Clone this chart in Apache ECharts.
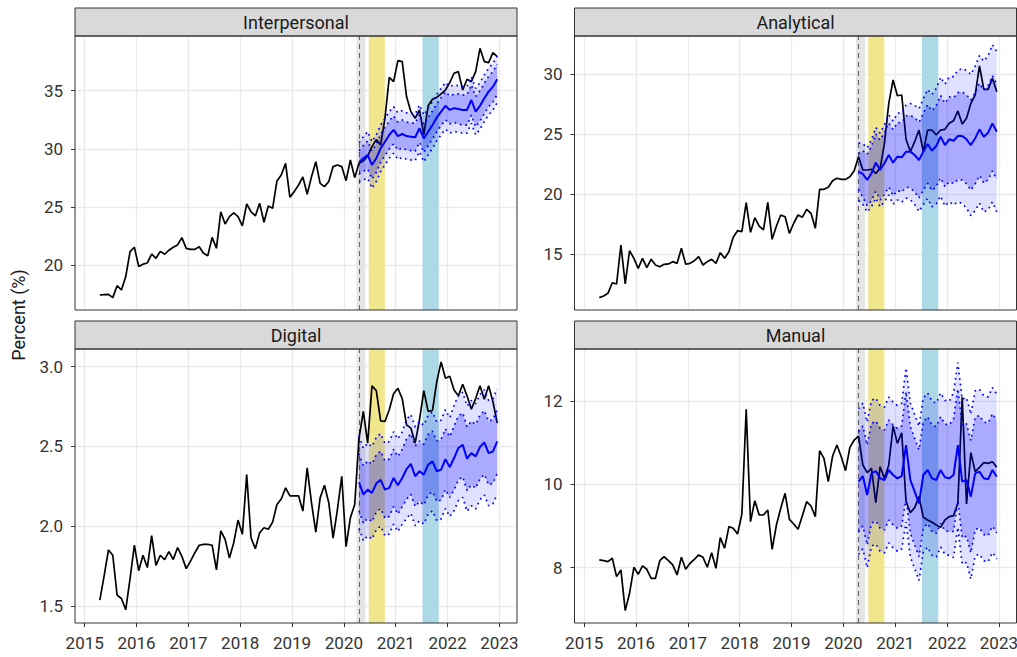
<!DOCTYPE html>
<html>
<head>
<meta charset="utf-8">
<script src="https://cdn.jsdelivr.net/npm/echarts@6/dist/echarts.min.js"></script>
<style>
html,body{margin:0;padding:0;background:#fff;}
#chart{width:1017px;height:657px;}
</style>
</head>
<body>
<div id="chart"></div>
<script>
// ---------- data ----------
const startYear = 2015, startMonth = 4;       // first monthly observation: April 2015
const forecastStartIndex = 60;                // April 2020
const panelTitles = ['Interpersonal', 'Analytical', 'Digital', 'Manual'];
const yearTicks = [2015, 2016, 2017, 2018, 2019, 2020, 2021, 2022, 2023];
const interpersonalTicks = [20, 25, 30, 35];
const analyticalTicks = [15, 20, 25, 30];
const digitalTicks = [1.5, 2.0, 2.5, 3.0];
const manualTicks = [8, 10, 12];
const yAxisTitle = 'Percent (%)';

const forecastLine = 2020.29;
const shadeGrey = [2020.243, 2020.416];
const shadeYellow = [2020.48, 2020.79];
const shadeBlue = [2021.515, 2021.83];

const interpersonalActual = [17.45, 17.48, 17.5, 17.22, 18.25, 17.88, 19.03, 21.17, 21.55, 19.9,
  20.1, 20.2, 20.97, 20.6, 21.2, 20.95, 21.3, 21.55, 21.75, 22.38,
  21.46, 21.37, 21.37, 21.6, 21.03, 20.83, 22.4, 21.46, 24.6, 23.55,
  24.18, 24.5, 24.18, 23.38, 25.27, 24.6, 24.24, 25.33, 23.7, 25.1,
  24.9, 27.25, 27.76, 28.76, 25.84, 26.33, 26.9, 27.6, 26.1, 27.6,
  28.9, 27.04, 26.76, 27.2, 28.48, 28.62, 28.48, 27.27, 29.05, 27.53,
  28.76, 28.96, 29.4, 30.2, 30.8, 30.34, 32.63, 36.15, 35.78, 37.58,
  37.5, 34.5, 33.2, 32.63, 33.35, 31.2, 33.7, 34.26, 34.43, 34.72,
  35.06, 35.7, 36.5, 36.64, 35.06, 35.98, 35.78, 36.64, 38.64, 37.5,
  37.41, 38.27, 37.93];
const interpersonalForecast = [28.85, 29.2, 29.48, 28.62, 29.2, 30.05, 30.62, 31.2, 31.63, 31.1, 31.28, 31.1, 31.05, 31.0, 31.77, 30.9, 31.48, 32.06, 32.69, 33.2, 33.7, 33.35, 33.5, 33.43, 33.35, 33.35, 34.2, 33.2, 33.7, 34.35, 34.92, 35.35, 35.98];
const interpersonalHi95 = [30.55, 31.05, 31.48, 30.62, 31.2, 32.05, 32.62, 33.2, 33.63, 33.1, 33.28, 33.1, 33.05, 33.0, 33.77, 32.9, 33.48, 34.06, 34.69, 35.2, 35.7, 35.35, 35.5, 35.43, 35.35, 35.35, 36.2, 35.2, 35.7, 36.35, 36.92, 37.35, 37.98];
const interpersonalHi80 = [29.85, 30.3, 30.68, 29.82, 30.4, 31.25, 31.82, 32.4, 32.83, 32.3, 32.48, 32.3, 32.25, 32.2, 32.97, 32.1, 32.68, 33.26, 33.89, 34.4, 34.9, 34.55, 34.7, 34.73, 34.65, 34.65, 35.5, 34.5, 35.0, 35.65, 36.22, 36.65, 37.28];
const interpersonalLo80 = [27.85, 28.1, 28.28, 27.42, 28.0, 28.85, 29.42, 30.0, 30.43, 29.9, 30.08, 29.9, 29.85, 29.8, 30.57, 29.7, 30.28, 30.86, 31.49, 32.0, 32.5, 32.15, 32.3, 32.13, 32.05, 32.05, 32.9, 31.9, 32.4, 33.05, 33.62, 34.05, 34.68];
const interpersonalLo95 = [27.15, 27.35, 27.48, 26.62, 27.2, 28.05, 28.62, 29.2, 29.63, 29.1, 29.28, 29.1, 29.05, 29.0, 29.77, 28.9, 29.48, 30.06, 30.69, 31.2, 31.7, 31.35, 31.5, 31.43, 31.35, 31.35, 32.2, 31.2, 31.7, 32.35, 32.92, 33.35, 33.98];

const analyticalActual = [11.36, 11.5, 11.72, 12.6, 12.5, 15.75, 12.5, 15.28, 14.64, 13.8,
  14.64, 13.86, 14.56, 14.08, 13.94, 14.14, 14.17, 14.36, 14.22, 15.47,
  14.14, 14.22, 14.44, 14.78, 14.08, 14.36, 14.56, 14.22, 15.11, 14.64,
  15.19, 16.39, 16.94, 16.86, 19.28, 16.8, 18.03, 17.33, 17.0, 19.3,
  16.22, 17.33, 18.25, 18.1, 16.72, 17.56, 18.25, 18.06, 18.72, 18.39,
  17.14, 20.39, 20.39, 20.56, 21.11, 21.31, 21.22, 21.22, 21.44, 21.94,
  23.11, 22.0, 22.0, 22.06, 21.72, 22.14, 24.22, 27.56, 29.5, 28.19,
  28.25, 24.56, 23.53, 24.36, 25.33, 23.53, 25.33, 25.33, 24.92, 25.33,
  25.39, 25.89, 26.11, 26.92, 25.83, 26.31, 27.56, 28.25, 30.67, 28.72,
  28.72, 29.64, 28.53];
const analyticalForecast = [21.86, 21.67, 21.17, 21.72, 22.61, 22.0, 22.56, 23.25, 22.61, 23.11, 23.06, 23.53, 23.53, 23.25, 22.83, 23.53, 24.17, 23.61, 24.0, 24.78, 24.08, 24.56, 24.44, 24.83, 24.83, 24.56, 24.08, 24.64, 25.39, 24.78, 25.11, 25.89, 25.19];
const analyticalHi95 = [24.26, 24.2, 23.84, 24.52, 25.55, 25.07, 25.76, 26.59, 26.08, 26.72, 26.8, 27.4, 27.54, 27.39, 27.11, 27.94, 28.71, 28.29, 28.81, 29.73, 29.16, 29.77, 29.79, 30.31, 30.45, 30.31, 29.96, 30.66, 31.54, 31.07, 31.53, 32.44, 31.88];
const analyticalHi80 = [23.36, 23.61, 23.3, 23.99, 25.0, 24.49, 25.14, 25.92, 25.36, 25.94, 25.96, 26.5, 26.56, 26.34, 25.98, 26.74, 27.44, 26.93, 27.38, 28.21, 27.56, 28.09, 28.01, 28.45, 28.5, 28.27, 27.83, 28.44, 29.23, 28.66, 29.03, 29.85, 29.19];
const analyticalLo80 = [20.36, 19.73, 19.04, 19.45, 20.22, 19.51, 19.98, 20.58, 19.86, 20.28, 20.16, 20.56, 20.5, 20.16, 19.68, 20.32, 20.9, 20.29, 20.62, 21.35, 20.6, 21.03, 20.87, 21.21, 21.16, 20.85, 20.33, 20.84, 21.55, 20.9, 21.19, 21.93, 21.19];
const analyticalLo95 = [19.46, 19.14, 18.5, 18.92, 19.67, 18.93, 19.36, 19.91, 19.14, 19.5, 19.32, 19.66, 19.52, 19.11, 18.55, 19.12, 19.63, 18.93, 19.19, 19.83, 19.0, 19.35, 19.09, 19.35, 19.21, 18.81, 18.2, 18.62, 19.24, 18.49, 18.69, 19.34, 18.5];

const digitalActual = [1.535, 1.6875, 1.85, 1.817, 1.567, 1.546, 1.475, 1.67, 1.88, 1.72,
  1.817, 1.74, 1.94, 1.754, 1.817, 1.79, 1.84, 1.79, 1.865, 1.81,
  1.733, 1.78, 1.833, 1.88, 1.885, 1.885, 1.88, 1.725, 1.97, 1.917,
  1.80, 1.896, 2.0375, 1.948, 2.323, 1.927, 1.858, 1.958, 1.99, 1.98,
  2.025, 2.135, 2.17, 2.24, 2.19, 2.19, 2.19, 2.094, 2.365, 2.146,
  1.9625, 2.177, 2.256, 2.146, 1.925, 2.104, 2.3125, 1.871, 2.052, 2.135,
  2.552, 2.72, 2.52, 2.88, 2.85, 2.66, 2.656, 2.73, 2.83, 2.865,
  2.80, 2.635, 2.615, 2.52, 2.667, 2.85, 2.72, 2.725, 2.906, 3.03,
  2.927, 2.94, 2.854, 2.817, 2.89, 2.817, 2.733, 2.80, 2.88, 2.796,
  2.88, 2.78, 2.646];
const digitalForecast = [2.275, 2.198, 2.229, 2.208, 2.267, 2.29, 2.229, 2.24, 2.302, 2.256, 2.302, 2.358, 2.39, 2.3125, 2.344, 2.323, 2.385, 2.406, 2.344, 2.354, 2.42, 2.37, 2.427, 2.49, 2.51, 2.423, 2.458, 2.4375, 2.496, 2.525, 2.458, 2.469, 2.531];
const digitalHi95 = [2.565, 2.488, 2.519, 2.498, 2.557, 2.58, 2.519, 2.53, 2.592, 2.546, 2.592, 2.668, 2.7, 2.6225, 2.654, 2.633, 2.695, 2.716, 2.654, 2.664, 2.73, 2.68, 2.757, 2.82, 2.84, 2.753, 2.788, 2.7675, 2.826, 2.855, 2.788, 2.799, 2.861];
const digitalHi80 = [2.455, 2.378, 2.409, 2.388, 2.447, 2.47, 2.409, 2.42, 2.482, 2.436, 2.482, 2.548, 2.58, 2.5025, 2.534, 2.513, 2.575, 2.596, 2.534, 2.544, 2.61, 2.56, 2.627, 2.69, 2.71, 2.623, 2.658, 2.6375, 2.696, 2.725, 2.658, 2.669, 2.731];
const digitalLo80 = [2.095, 2.018, 2.049, 2.028, 2.087, 2.11, 2.049, 2.06, 2.122, 2.076, 2.122, 2.168, 2.2, 2.1225, 2.154, 2.133, 2.195, 2.216, 2.154, 2.164, 2.23, 2.18, 2.227, 2.29, 2.31, 2.223, 2.258, 2.2375, 2.296, 2.325, 2.258, 2.269, 2.331];
const digitalLo95 = [1.985, 1.908, 1.939, 1.918, 1.977, 2.0, 1.939, 1.95, 2.012, 1.966, 2.012, 2.048, 2.08, 2.0025, 2.034, 2.013, 2.075, 2.096, 2.034, 2.044, 2.11, 2.06, 2.097, 2.16, 2.18, 2.093, 2.128, 2.1075, 2.166, 2.195, 2.128, 2.139, 2.201];

const manualActual = [8.184, 8.168, 8.144, 8.224, 7.784, 7.944, 6.968, 7.384, 8.008, 7.84,
  8.04, 7.96, 7.744, 7.744, 8.168, 8.264, 8.168, 8.064, 7.824, 8.248,
  7.96, 8.104, 8.2, 8.304, 8.248, 8.008, 8.36, 7.984, 8.72, 8.464,
  8.984, 8.944, 8.808, 9.288, 11.8, 9.104, 9.608, 9.264, 9.264, 9.384,
  8.44, 9.024, 9.424, 9.784, 9.16, 9.048, 8.92, 9.248, 9.584, 9.48,
  9.224, 10.808, 10.624, 10.064, 10.68, 10.944, 10.664, 10.328, 10.888, 11.064,
  11.16, 10.464, 10.28, 10.384, 9.56, 10.424, 10.144, 10.464, 11.4, 10.984,
  11.24, 9.584, 9.32, 9.44, 9.704, 9.208, 9.144, 9.088, 9.024, 8.968,
  9.144, 9.224, 9.248, 9.544, 12.088, 9.528, 10.76, 10.304, 10.408, 10.52,
  10.504, 10.544, 10.408];
const manualForecast = [10.064, 10.2, 9.744, 10.264, 10.32, 10.144, 10.104, 10.344, 10.224, 10.144, 10.2, 10.944, 10.104, 9.824, 9.544, 10.224, 10.344, 10.144, 10.104, 10.344, 10.168, 10.144, 10.224, 10.944, 10.064, 10.104, 9.704, 10.264, 10.304, 10.144, 10.12, 10.344, 10.184];
const manualHi95 = [11.814, 11.95, 11.494, 12.014, 12.07, 11.894, 11.854, 12.094, 11.974, 11.894, 11.95, 12.794, 11.954, 11.674, 11.394, 12.074, 12.194, 11.994, 11.954, 12.194, 12.018, 11.994, 12.204, 12.924, 12.044, 12.084, 11.684, 12.244, 12.284, 12.124, 12.1, 12.324, 12.164];
const manualHi80 = [11.264, 11.4, 10.944, 11.464, 11.52, 11.344, 11.304, 11.544, 11.424, 11.344, 11.4, 12.224, 11.384, 11.104, 10.824, 11.504, 11.624, 11.424, 11.384, 11.624, 11.448, 11.424, 11.574, 12.294, 11.414, 11.454, 11.054, 11.614, 11.654, 11.494, 11.47, 11.694, 11.534];
const manualLo80 = [8.864, 9.0, 8.544, 9.064, 9.12, 8.944, 8.904, 9.144, 9.024, 8.944, 9.0, 9.664, 8.824, 8.544, 8.264, 8.944, 9.064, 8.864, 8.824, 9.064, 8.888, 8.864, 8.874, 9.594, 8.714, 8.754, 8.354, 8.914, 8.954, 8.794, 8.77, 8.994, 8.834];
const manualLo95 = [8.314, 8.45, 7.994, 8.514, 8.57, 8.394, 8.354, 8.594, 8.474, 8.394, 8.45, 9.094, 8.254, 7.974, 7.694, 8.374, 8.494, 8.294, 8.254, 8.494, 8.318, 8.294, 8.244, 8.964, 8.084, 8.124, 7.724, 8.284, 8.324, 8.164, 8.14, 8.364, 8.204];

// ---------- layout / style ----------
const FONT = 'Roboto, "Noto Sans", sans-serif';
const xRange = [2014.813, 2023.339];
const panels = [
  {title: panelTitles[0], actual: interpersonalActual, fc: interpersonalForecast, lo95: interpersonalLo95, lo80: interpersonalLo80, hi80: interpersonalHi80, hi95: interpersonalHi95, ticks: interpersonalTicks, yr: [16.16, 39.7], dec: 0, rect: [75, 36, 442, 274]},
  {title: panelTitles[1], actual: analyticalActual, fc: analyticalForecast, lo95: analyticalLo95, lo80: analyticalLo80, hi80: analyticalHi80, hi95: analyticalHi95, ticks: analyticalTicks, yr: [10.33, 33.17], dec: 0, rect: [574.5, 36, 442, 274]},
  {title: panelTitles[2], actual: digitalActual, fc: digitalForecast, lo95: digitalLo95, lo80: digitalLo80, hi80: digitalHi80, hi95: digitalHi95, ticks: digitalTicks, yr: [1.392, 3.111], dec: 1, rect: [75, 349, 442, 274]},
  {title: panelTitles[3], actual: manualActual, fc: manualForecast, lo95: manualLo95, lo80: manualLo80, hi80: manualHi80, hi95: manualHi95, ticks: manualTicks, yr: [6.67, 13.25], dec: 0, rect: [574.5, 349, 442, 274]}
];

const times = interpersonalActual.map((_, i) => startYear + (startMonth - 1 + i + 0.5) / 12);
const fTimes = times.slice(forecastStartIndex);
const pairs = (ts, vals) => vals.map((v, i) => [ts[i], v]);

const grids = [], xAxes = [], yAxes = [], series = [], graphics = [];
const LIGHT = 'rgba(0,0,255,0.12)';   // 95% ribbon
const DARK = 'rgba(0,0,255,0.24)';    // 80% ribbon (drawn over the 95% one)

function ribbonPoints(api, lo, hi) {
  const pts = [];
  for (let i = 0; i < fTimes.length; i++) pts.push(api.coord([fTimes[i], hi[i]]));
  for (let i = fTimes.length - 1; i >= 0; i--) pts.push(api.coord([fTimes[i], lo[i]]));
  return pts;
}

panels.forEach((p, k) => {
  const [gx, gy, gw, gh] = p.rect;
  grids.push({left: gx, top: gy, width: gw, height: gh, show: false, containLabel: false, outerBoundsMode: 'none'});
  const bottom = k >= 2;
  xAxes.push({
    type: 'value', gridIndex: k, min: xRange[0], max: xRange[1],
    axisLine: {show: false},
    axisTick: {show: bottom, length: 4, customValues: yearTicks, lineStyle: {color: '#333', width: 1}},
    axisLabel: {show: bottom, customValues: yearTicks, formatter: v => String(Math.round(v)), color: '#333333', fontSize: 17, fontFamily: FONT, margin: 11},
    splitLine: {show: true, lineStyle: {color: '#EBEBEB', width: 1.4}}
  });
  yAxes.push({
    type: 'value', gridIndex: k, min: p.yr[0], max: p.yr[1],
    axisLine: {show: false},
    axisTick: {show: true, length: 4, customValues: p.ticks, lineStyle: {color: '#333', width: 1}},
    axisLabel: {show: true, customValues: p.ticks, formatter: v => v.toFixed(p.dec), color: '#333333', fontSize: 17, fontFamily: FONT, margin: 12},
    splitLine: {show: true, lineStyle: {color: '#EBEBEB', width: 1.4}}
  });
  const base = {type: 'line', xAxisIndex: k, yAxisIndex: k, symbol: 'none', showSymbol: false, silent: true, animation: false};
  // observed series with shaded periods and forecast-start line
  series.push(Object.assign({}, base, {
    data: pairs(times, p.actual), z: 2,
    lineStyle: {color: '#000000', width: 1.7},
    markArea: {silent: true, z: 1, data: [
      [{xAxis: shadeGrey[0], itemStyle: {color: '#E6E6E6', opacity: 1}}, {xAxis: shadeGrey[1]}],
      [{xAxis: shadeYellow[0], itemStyle: {color: '#F0E68C', opacity: 1}}, {xAxis: shadeYellow[1]}],
      [{xAxis: shadeBlue[0], itemStyle: {color: '#ADD8E6', opacity: 1}}, {xAxis: shadeBlue[1]}]
    ]},
    markLine: {silent: true, z: 2, symbol: ['none', 'none'], label: {show: false},
      lineStyle: {type: [5, 4], color: '#666666', width: 1.1}, data: [{xAxis: forecastLine}]}
  }));
  // prediction ribbons (95% then 80%) drawn through the axes' scales
  series.push({
    type: 'custom', xAxisIndex: k, yAxisIndex: k, z: 3, silent: true, animation: false,
    data: fTimes.map((t, i) => [t, p.lo95[i], p.hi95[i], p.lo80[i], p.hi80[i]]),
    encode: {x: 0, y: [1, 2, 3, 4]},
    renderItem: (params, api) => {
      if (params.dataIndex !== 0) return null;
      return {type: 'group', children: [
        {type: 'polygon', shape: {points: ribbonPoints(api, p.lo95, p.hi95)}, style: {fill: LIGHT, stroke: null}},
        {type: 'polygon', shape: {points: ribbonPoints(api, p.lo80, p.hi80)}, style: {fill: DARK, stroke: null}}
      ]};
    }
  });
  // dotted bound lines
  [p.lo95, p.lo80, p.hi80, p.hi95].forEach(arr => {
    series.push(Object.assign({}, base, {z: 4, data: pairs(fTimes, arr),
      lineStyle: {color: '#0000FF', width: 1.7, type: [1.7, 3.8], cap: 'butt'}}));
  });
  // forecast mean
  series.push(Object.assign({}, base, {z: 5, data: pairs(fTimes, p.fc), lineStyle: {color: '#0000FF', width: 2}}));

  // strip + panel border
  graphics.push({type: 'rect', z: 100, silent: true, shape: {x: gx, y: gy - 28, width: gw, height: 28},
    style: {fill: '#D9D9D9', stroke: '#333333', lineWidth: 1}});
  graphics.push({type: 'text', z: 101, silent: true, x: gx + gw / 2, y: gy - 14,
    style: {text: p.title, fill: '#1A1A1A', font: '18px ' + FONT, textAlign: 'center', textVerticalAlign: 'middle', align: 'center', verticalAlign: 'middle'}});
  graphics.push({type: 'rect', z: 100, silent: true, shape: {x: gx, y: gy, width: gw, height: gh},
    style: {fill: 'none', stroke: '#333333', lineWidth: 1}});
});

graphics.push({type: 'text', z: 101, silent: true, x: 18, y: 315, rotation: Math.PI / 2,
  style: {text: yAxisTitle, fill: '#1A1A1A', font: '18px ' + FONT, textAlign: 'center', textVerticalAlign: 'middle', align: 'center', verticalAlign: 'middle'}});

const chart = echarts.init(document.getElementById('chart'), null, {renderer: 'svg', width: 1017, height: 657});
chart.setOption({
  animation: false,
  backgroundColor: '#ffffff',
  grid: grids,
  xAxis: xAxes,
  yAxis: yAxes,
  series: series,
  graphic: {elements: graphics}
});
</script>
</body>
</html>
